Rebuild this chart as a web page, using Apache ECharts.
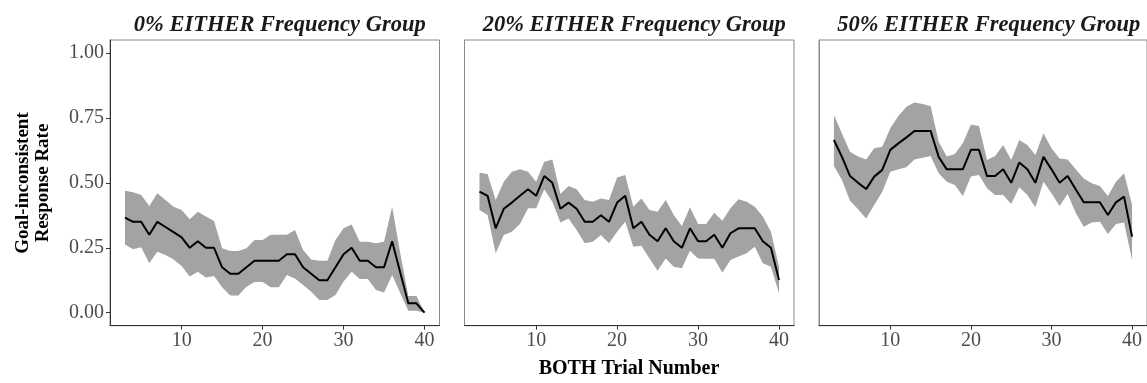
<!DOCTYPE html>
<html>
<head>
<meta charset="utf-8">
<script src="https://cdn.jsdelivr.net/npm/echarts@6/dist/echarts.min.js"></script>
<style>html,body{margin:0;padding:0;background:#fff}#c{width:1147px;height:383px}</style>
</head>
<body>
<div id="c"></div>
<script>
const trials = [3,4,5,6,7,8,9,10,11,12,13,14,15,16,17,18,19,20,21,22,23,24,25,26,27,28,29,30,31,32,33,34,35,36,37,38,39,40];
const panelTitles = ['0% EITHER Frequency Group','20% EITHER Frequency Group','50% EITHER Frequency Group'];
const xTicks = [10,20,30,40];
const yTicks = [0,0.25,0.5,0.75,1];

const mean0  = [0.366,0.35,0.35,0.30,0.35,0.33,0.31,0.29,0.25,0.275,0.25,0.25,0.175,0.15,0.15,0.175,0.20,0.20,0.20,0.20,0.225,0.225,0.175,0.15,0.125,0.125,0.175,0.225,0.25,0.20,0.20,0.175,0.175,0.275,0.155,0.036,0.036,0.0];
const upper0 = [0.47,0.464,0.453,0.411,0.46,0.434,0.408,0.395,0.36,0.389,0.37,0.353,0.248,0.238,0.238,0.248,0.28,0.28,0.30,0.30,0.30,0.318,0.241,0.205,0.20,0.20,0.28,0.325,0.34,0.273,0.273,0.267,0.273,0.408,0.23,0.064,0.064,0.0];
const lower0 = [0.263,0.244,0.252,0.19,0.235,0.222,0.205,0.18,0.139,0.158,0.136,0.141,0.098,0.066,0.066,0.10,0.118,0.118,0.098,0.098,0.145,0.132,0.107,0.081,0.049,0.049,0.068,0.12,0.158,0.13,0.13,0.087,0.078,0.145,0.076,0.008,0.008,0.0];

const mean1  = [0.466,0.45,0.325,0.40,0.424,0.45,0.475,0.45,0.526,0.50,0.40,0.424,0.40,0.35,0.35,0.375,0.35,0.424,0.45,0.325,0.35,0.30,0.275,0.325,0.275,0.25,0.325,0.275,0.275,0.30,0.25,0.306,0.325,0.325,0.325,0.275,0.25,0.126];
const upper1 = [0.539,0.534,0.434,0.504,0.543,0.552,0.543,0.504,0.581,0.59,0.457,0.488,0.475,0.434,0.427,0.44,0.434,0.521,0.53,0.408,0.44,0.395,0.389,0.434,0.376,0.334,0.406,0.342,0.342,0.385,0.354,0.402,0.437,0.427,0.408,0.37,0.312,0.177];
const lower1 = [0.395,0.376,0.229,0.299,0.312,0.342,0.402,0.402,0.475,0.427,0.347,0.363,0.318,0.267,0.273,0.299,0.267,0.312,0.35,0.254,0.258,0.209,0.162,0.209,0.177,0.171,0.239,0.209,0.208,0.208,0.154,0.203,0.216,0.229,0.254,0.19,0.177,0.075];

const mean2  = [0.665,0.60,0.526,0.50,0.476,0.524,0.55,0.627,0.652,0.675,0.70,0.70,0.70,0.60,0.552,0.552,0.552,0.627,0.627,0.526,0.526,0.552,0.50,0.578,0.552,0.50,0.60,0.552,0.50,0.526,0.475,0.425,0.425,0.425,0.376,0.425,0.447,0.293];
const upper2 = [0.761,0.69,0.62,0.601,0.59,0.633,0.639,0.71,0.757,0.793,0.809,0.804,0.796,0.658,0.601,0.611,0.652,0.725,0.719,0.588,0.603,0.646,0.588,0.665,0.646,0.607,0.691,0.633,0.594,0.59,0.552,0.517,0.498,0.488,0.449,0.504,0.537,0.415];
const lower2 = [0.565,0.511,0.431,0.398,0.363,0.415,0.466,0.543,0.552,0.56,0.59,0.597,0.603,0.537,0.504,0.492,0.449,0.524,0.53,0.479,0.453,0.453,0.419,0.483,0.453,0.406,0.504,0.46,0.411,0.457,0.385,0.331,0.347,0.35,0.303,0.342,0.347,0.203];

const means = [mean0, mean1, mean2];
const uppers = [upper0, upper1, upper2];
const lowers = [lower0, lower1, lower2];

const FONT = '"Liberation Serif","DejaVu Serif",serif';
const panelLeft = [110, 464.5, 819];
const panelW = 329.5;
const gridTop = 40, gridBottomY = 325.7;

const grids = [], xAxes = [], yAxes = [], series = [], titles = [];
for (let p = 0; p < 3; p++) {
  grids.push({left: panelLeft[p], top: gridTop, width: panelW, height: gridBottomY - gridTop,
    show: true, borderColor: '#8a8a8a', borderWidth: 1, backgroundColor: '#fff'});
  xAxes.push({type: 'value', gridIndex: p, min: 1.15, max: 41.85,
    axisLine: {show: true, onZero: false, lineStyle: {color: '#333', width: 1}},
    axisTick: {show: true, length: 4, lineStyle: {color: '#333'}, customValues: xTicks},
    axisLabel: {show: true, color: '#4d4d4d', fontFamily: FONT, fontSize: 20, margin: 5, customValues: xTicks},
    splitLine: {show: false}});
  yAxes.push({type: 'value', gridIndex: p, min: -0.05, max: 1.05,
    axisLine: {show: true, onZero: false, lineStyle: {color: p === 0 ? '#333' : '#8a8a8a', width: 1}},
    axisTick: {show: p === 0, length: 4, lineStyle: {color: '#333'}, customValues: yTicks},
    axisLabel: {show: p === 0, color: '#4d4d4d', fontFamily: FONT, fontSize: 20, margin: 6,
      customValues: yTicks, formatter: v => v.toFixed(2)},
    splitLine: {show: false}});
  const up = uppers[p], lo = lowers[p];
  series.push({type: 'custom', xAxisIndex: p, yAxisIndex: p, silent: true, clip: true,
    data: [[trials[0], lo[0]]],
    renderItem: function (params, api) {
      const pts = [];
      for (let i = 0; i < trials.length; i++) pts.push(api.coord([trials[i], up[i]]));
      for (let i = trials.length - 1; i >= 0; i--) pts.push(api.coord([trials[i], lo[i]]));
      return {type: 'polygon', shape: {points: pts}, style: {fill: '#a3a3a3', stroke: null}};
    }});
  series.push({type: 'line', xAxisIndex: p, yAxisIndex: p, symbol: 'none', silent: true,
    lineStyle: {color: '#000', width: 2}, data: trials.map((t, i) => [t, means[p][i]])});
  titles.push({text: panelTitles[p], left: panelLeft[p] + panelW / 2, top: 9, textAlign: 'center',
    textStyle: {fontFamily: FONT, fontSize: 22.5, fontWeight: 'bold', fontStyle: 'italic', color: '#1a1a1a'}});
}

const chart = echarts.init(document.getElementById('c'), null, {renderer: 'canvas'});
chart.setOption({
  animation: false,
  title: titles,
  grid: grids,
  xAxis: xAxes,
  yAxis: yAxes,
  series: series,
  graphic: [
    {type: 'text', x: 33, y: 183, rotation: Math.PI / 2,
      style: {text: 'Goal-inconsistent\nResponse Rate', fontFamily: FONT, fontSize: 19, fontWeight: 'bold',
        fill: '#000', align: 'center', verticalAlign: 'middle', lineHeight: 20}},
    {type: 'text', x: 629, y: 369,
      style: {text: 'BOTH Trial Number', fontFamily: FONT, fontSize: 20, fontWeight: 'bold',
        fill: '#000', align: 'center', verticalAlign: 'middle'}}
  ]
});
</script>
</body>
</html>
